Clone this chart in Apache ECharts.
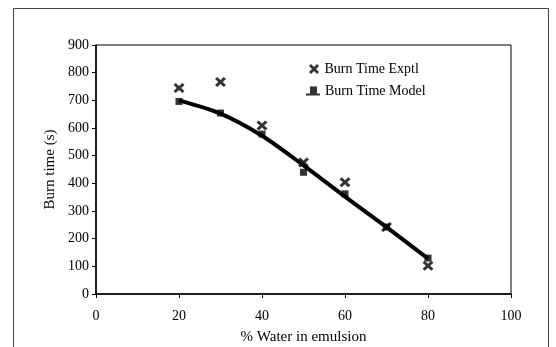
<!DOCTYPE html>
<html>
<head>
<meta charset="utf-8">
<script src="https://cdn.jsdelivr.net/npm/echarts@6/dist/echarts.min.js"></script>
<style>
  html, body { margin: 0; padding: 0; background: #fff; }
  #chart { width: 556px; height: 347px; }
</style>
</head>
<body>
<div id="chart"></div>
<script>
// % water in emulsion
var water = [20, 30, 40, 50, 60, 70, 80];
// burn time, experimental (s)
var exptl = [745, 766, 609, 475, 404, 242, 102];
// burn time, model points (s)
var model = [696, 654, 578, 440, 362, 242, 130];
// smooth fitted curve through the model
var curve = [700, 652, 572, 465, 352, 242, 128];

var xTicks = [0, 20, 40, 60, 80, 100];
var yTicks = [0, 100, 200, 300, 400, 500, 600, 700, 800, 900];

function pairs(xs, ys) {
    return xs.map(function (x, i) { return [x, ys[i]]; });
}

var crossPath = 'path://M0,2 L2,0 L5,3 L8,0 L10,2 L7,5 L10,8 L8,10 L5,7 L2,10 L0,8 L3,5 Z';
var modelIcon = 'path://M0,8 L4,8 L4,1 L11,1 L11,8 L14,8 L14,10 L0,10 Z';
var font = '"Liberation Serif", "Times New Roman", serif';

var chart = echarts.init(document.getElementById('chart'));
chart.setOption({
    backgroundColor: '#fff',
    animation: false,
    textStyle: { fontFamily: font, color: '#000' },
    grid: {
        left: 96, right: 45, top: 45, bottom: 53,
        outerBoundsMode: 'none',
        show: true, borderColor: '#000', borderWidth: 1
    },
    legend: [
        {
            data: [{ name: 'Burn Time Exptl', icon: crossPath }],
            left: 304, top: 57,
            itemWidth: 11, itemHeight: 10,
            textStyle: { fontFamily: font, fontSize: 14, color: '#000' }
        },
        {
            data: [{ name: 'Burn Time Model', icon: modelIcon }],
            left: 301, top: 79,
            itemWidth: 14, itemHeight: 10,
            textStyle: { fontFamily: font, fontSize: 14, color: '#000' }
        }
    ],
    xAxis: {
        type: 'value',
        min: xTicks[0], max: xTicks[xTicks.length - 1], interval: 20,
        name: '% Water in emulsion',
        nameLocation: 'middle', nameGap: 36,
        nameTextStyle: { fontFamily: font, fontSize: 15, color: '#000' },
        axisLine: { lineStyle: { color: '#000', width: 1.5 } },
        axisTick: { show: true, length: 4, lineStyle: { color: '#000' } },
        axisLabel: { fontFamily: font, fontSize: 14, color: '#000', margin: 15 },
        splitLine: { show: false }
    },
    yAxis: {
        type: 'value',
        min: yTicks[0], max: yTicks[yTicks.length - 1], interval: 100,
        name: 'Burn time (s)',
        nameLocation: 'middle', nameGap: 32,
        nameTextStyle: { fontFamily: font, fontSize: 15, color: '#000' },
        axisLine: { show: true, lineStyle: { color: '#000', width: 1.5 } },
        axisTick: { show: true, length: 4, lineStyle: { color: '#000' } },
        axisLabel: { fontFamily: font, fontSize: 14, color: '#000', margin: 7 },
        splitLine: { show: false }
    },
    graphic: [
        {
            type: 'rect',
            shape: { x: 13.5, y: 8.5, width: 535, height: 360 },
            style: { fill: 'none', stroke: '#444', lineWidth: 1 },
            silent: true
        }
    ],
    series: [
        {
            name: 'trend',
            type: 'line',
            data: pairs(water, curve),
            smooth: 0.3,
            showSymbol: false,
            lineStyle: { color: '#000', width: 4 },
            z: 2
        },
        {
            name: 'Burn Time Model',
            type: 'scatter',
            data: pairs(water, model),
            symbol: 'rect',
            symbolSize: 7,
            itemStyle: { color: '#000' },
            z: 3
        },
        {
            name: 'Burn Time Exptl',
            type: 'scatter',
            data: pairs(water, exptl),
            symbol: crossPath,
            symbolSize: [11, 10],
            itemStyle: { color: '#000' },
            z: 4
        }
    ]
});
</script>
</body>
</html>
